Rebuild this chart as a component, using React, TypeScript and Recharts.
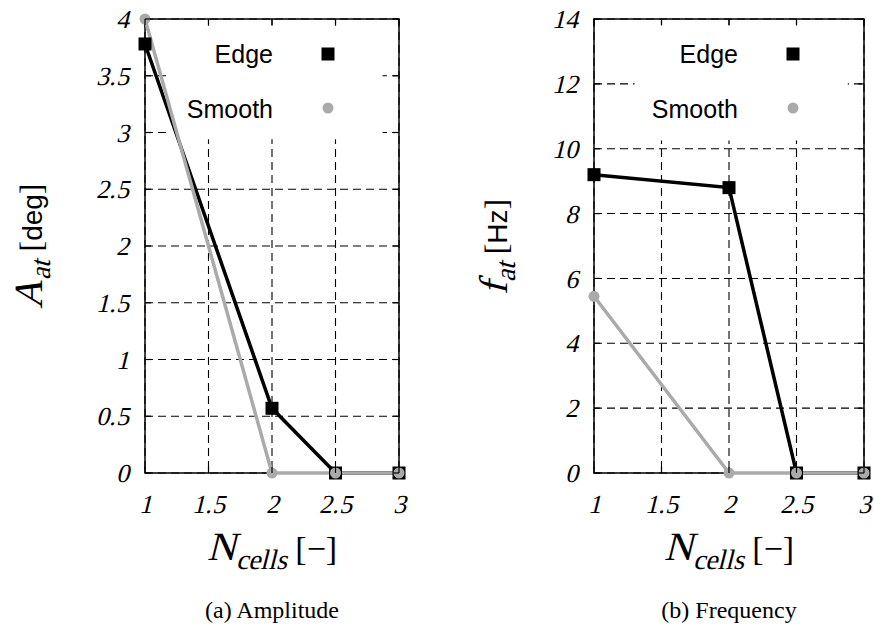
import React from 'react';
import { LineChart, Line, XAxis, YAxis, CartesianGrid, ReferenceArea } from 'recharts';

const nCells = [1, 2, 2.5, 3];
const ampEdge = [3.78, 0.57, 0, 0];
const ampSmooth = [4, 0, 0, 0];
const freqEdge = [9.2, 8.8, 0, 0];
const freqSmooth = [5.45, 0, 0, 0];
const xTicks = [1, 1.5, 2, 2.5, 3];
const ampTicks = [0, 0.5, 1, 1.5, 2, 2.5, 3, 3.5, 4];
const freqTicks = [0, 2, 4, 6, 8, 10, 12, 14];
const seriesNames = ['Edge', 'Smooth'];
const captions = ['(a) Amplitude', '(b) Frequency'];

const BLACK = '#000000';
const GRAY = '#aaaaaa';
const SERIF = '"Liberation Serif", serif';
const ITAL = 'SlantSerif, "Liberation Serif", serif';
const SANS = '"Liberation Sans", Arial, sans-serif';

const FONT_CSS = `@font-face { font-family: 'SlantSerif'; src: local('Liberation Serif'), local('LiberationSerif'), local('Liberation Serif Regular'); font-style: normal; font-weight: 400; }`;

const PLOT_TOP = 19;
const PLOT_BOTTOM = 473;
const PLOT_LEFT = 145;

const buildRows = (edge: number[], smooth: number[]) =>
  nCells.map((n, i) => ({ n, edge: edge[i], smooth: smooth[i] }));

const SquareDot = (props: any) => {
  const { cx, cy } = props;
  if (cx == null || cy == null) return null;
  return <rect x={cx - 6.5} y={cy - 6.5} width={13} height={13} fill={BLACK} />;
};

const CircleDot = (props: any) => {
  const { cx, cy } = props;
  if (cx == null || cy == null) return null;
  return <circle cx={cx} cy={cy} r={5.5} fill={GRAY} />;
};

const fmt = (v: number) => String(v);

const italStyle = (size: number) => ({ fontFamily: ITAL, fontStyle: 'italic' as const, fontSize: size });

type PanelProps = {
  left: number;
  width: number;
  marginRight: number;
  edge: number[];
  smooth: number[];
  yTicks: number[];
  yMax: number;
  box: { x1: number; x2: number; y1: number; y2: number };
};

const Panel = ({ left, width, marginRight, edge, smooth, yTicks, yMax, box }: PanelProps) => {
  const plotRight = width - marginRight;
  const rows = buildRows(edge, smooth);
  const xTick = (p: any) => {
    const x = p.x;
    return (
      <g>
        <line x1={x} x2={x} y1={PLOT_BOTTOM} y2={PLOT_BOTTOM - 6} stroke={BLACK} strokeWidth={1.2} />
        <line x1={x} x2={x} y1={PLOT_TOP} y2={PLOT_TOP + 6} stroke={BLACK} strokeWidth={1.2} />
        <text x={x} y={513} textAnchor="middle" style={italStyle(26)} fill={BLACK}>
          {fmt(p.payload.value)}
        </text>
      </g>
    );
  };
  const yTick = (p: any) => {
    const y = p.y;
    return (
      <g>
        <line x1={PLOT_LEFT} x2={PLOT_LEFT + 6} y1={y} y2={y} stroke={BLACK} strokeWidth={1.2} />
        <line x1={plotRight - 6} x2={plotRight} y1={y} y2={y} stroke={BLACK} strokeWidth={1.2} />
        <text x={129} y={y} dy="0.35em" textAnchor="end" style={italStyle(26)} fill={BLACK}>
          {fmt(p.payload.value)}
        </text>
      </g>
    );
  };
  return (
    <div style={{ position: 'absolute', left, top: 0 }}>
      <LineChart
        width={width}
        height={633}
        data={rows}
        margin={{ top: PLOT_TOP, right: marginRight, bottom: 120, left: 85 }}
      >
        <CartesianGrid stroke={BLACK} strokeWidth={1.1} strokeDasharray="8 5" />
        <XAxis
          dataKey="n"
          type="number"
          domain={[1, 3]}
          ticks={xTicks}
          height={40}
          axisLine={false}
          tickLine={false}
          tick={xTick}
          interval={0}
        />
        <YAxis
          type="number"
          domain={[0, yMax]}
          ticks={yTicks}
          width={60}
          axisLine={false}
          tickLine={false}
          tick={yTick}
          interval={0}
        />
        <ReferenceArea x1={box.x1} x2={box.x2} y1={box.y1} y2={box.y2} fill="#ffffff" fillOpacity={1} stroke="none" />
        <ReferenceArea x1={1} x2={3} y1={0} y2={yMax} fill="none" stroke={BLACK} strokeWidth={1.5} />
        <Line
          dataKey="edge"
          stroke={BLACK}
          strokeWidth={3.5}
          dot={<SquareDot />}
          activeDot={false}
          isAnimationActive={false}
        />
        <Line
          dataKey="smooth"
          stroke={GRAY}
          strokeWidth={3.5}
          dot={<CircleDot />}
          activeDot={false}
          isAnimationActive={false}
        />
      </LineChart>
    </div>
  );
};

const Legend = ({ right }: { right: number }) => (
  <g>
    <text x={right - 126} y={63} textAnchor="end" fontFamily={SANS} fontSize={25} fill={BLACK}>
      {seriesNames[0]}
    </text>
    <rect x={right - 71 - 6.5} y={54 - 6.5} width={13} height={13} fill={BLACK} />
    <text x={right - 126} y={118} textAnchor="end" fontFamily={SANS} fontSize={25} fill={BLACK}>
      {seriesNames[1]}
    </text>
    <circle cx={right - 71} cy={108} r={5.5} fill={GRAY} />
  </g>
);

const XTitle = ({ cx }: { cx: number }) => (
  <text x={cx} y={560} textAnchor="middle" fill={BLACK}>
    <tspan style={italStyle(40)}>N</tspan>
    <tspan style={italStyle(28)} dy={9}>cells</tspan>
    <tspan style={{ fontFamily: SERIF, fontSize: 34 }} dy={-9}>{' [\u2212]'}</tspan>
  </text>
);

export default function App() {
  return (
    <div style={{ position: 'absolute', left: 0, top: 0, width: 874, height: 633, background: '#fff' }}>
      <style>{FONT_CSS}</style>
      <Panel
        left={0}
        width={430}
        marginRight={31}
        edge={ampEdge}
        smooth={ampSmooth}
        yTicks={ampTicks}
        yMax={4}
        box={{ x1: 1.18, x2: 2.87, y1: 2.94, y2: 3.94 }}
      />
      <Panel
        left={449}
        width={425}
        marginRight={10}
        edge={freqEdge}
        smooth={freqSmooth}
        yTicks={freqTicks}
        yMax={14}
        box={{ x1: 1.3, x2: 2.88, y1: 10.25, y2: 13.8 }}
      />
      <svg width={874} height={633} style={{ position: 'absolute', left: 0, top: 0, pointerEvents: 'none' }}>
        <Legend right={399} />
        <Legend right={864} />
        <text transform="translate(42,246) rotate(-90)" textAnchor="middle" fill={BLACK}>
          <tspan style={italStyle(40)}>A</tspan>
          <tspan style={italStyle(28)} dy={8}>at</tspan>
          <tspan style={{ fontFamily: SERIF, fontSize: 32 }} dy={-8}>{' ['}</tspan>
          <tspan style={{ fontFamily: SANS, fontSize: 28 }}>deg</tspan>
          <tspan style={{ fontFamily: SERIF, fontSize: 32 }}>]</tspan>
        </text>
        <text transform="translate(507,247) rotate(-90)" textAnchor="middle" fill={BLACK}>
          <tspan style={italStyle(40)}>f</tspan>
          <tspan style={italStyle(28)} dy={8}>at</tspan>
          <tspan style={{ fontFamily: SERIF, fontSize: 32 }} dy={-8}>{' ['}</tspan>
          <tspan style={{ fontFamily: SANS, fontSize: 28 }}>Hz</tspan>
          <tspan style={{ fontFamily: SERIF, fontSize: 32 }}>]</tspan>
        </text>
        <XTitle cx={272} />
        <XTitle cx={729} />
        <text x={272} y={618} textAnchor="middle" style={{ fontFamily: SERIF, fontSize: 24 }} fill={BLACK}>
          {captions[0]}
        </text>
        <text x={729} y={618} textAnchor="middle" style={{ fontFamily: SERIF, fontSize: 24 }} fill={BLACK}>
          {captions[1]}
        </text>
      </svg>
    </div>
  );
}
